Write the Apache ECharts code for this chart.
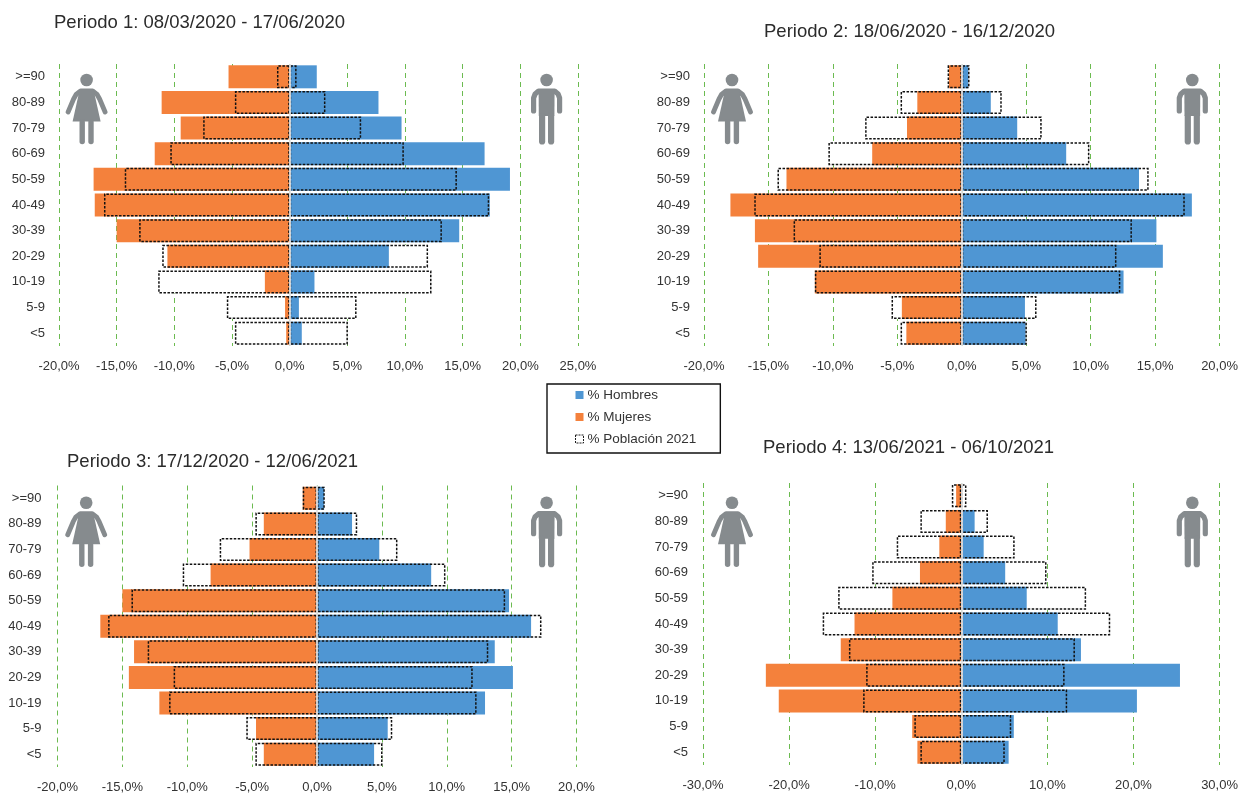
<!DOCTYPE html>
<html><head><meta charset="utf-8">
<style>html,body{margin:0;padding:0;background:#fff}#c{width:1241px;height:794px}</style>
<script src="https://cdn.jsdelivr.net/npm/echarts@6/dist/echarts.min.js"></script>
</head><body><div id="c"></div>
<script>
const categories = ['>=90','80-89','70-79','60-69','50-59','40-49','30-39','20-29','10-19','5-9','<5'];
const popHombres = [0.6,3.1,6.2,9.9,14.5,17.3,13.2,12.0,12.3,5.8,5.05];
const popMujeres = [-1.1,-4.75,-7.5,-10.35,-14.3,-16.1,-13.05,-11.05,-11.4,-5.45,-4.75];
const p1Hombres = [2.35,7.7,9.7,16.9,19.1,17.35,14.7,8.6,2.15,0.8,1.05];
const p1Mujeres = [-5.3,-11.1,-9.45,-11.7,-17.0,-16.9,-15.0,-10.6,-2.15,-0.4,-0.3];
const p2Hombres = [0.5,2.25,4.3,8.1,13.75,17.85,15.1,15.6,12.55,4.9,4.95];
const p2Mujeres = [-1.0,-3.45,-4.25,-6.95,-13.6,-17.95,-16.05,-15.8,-11.4,-4.65,-4.3];
const p3Hombres = [0.55,2.7,4.8,8.8,14.8,16.5,13.7,15.1,12.95,5.45,4.4];
const p3Mujeres = [-1.1,-4.1,-5.2,-8.2,-15.0,-16.7,-14.1,-14.5,-12.15,-4.7,-4.1];
const p4Hombres = [0.05,1.55,2.6,5.1,7.6,11.2,13.9,25.4,20.4,6.1,5.5];
const p4Mujeres = [-0.6,-1.8,-2.55,-4.8,-8.0,-12.4,-14.0,-22.7,-21.2,-5.7,-5.1];
const titles = ['Periodo 1: 08/03/2020 - 17/06/2020','Periodo 2: 18/06/2020 - 16/12/2020','Periodo 3: 17/12/2020 - 12/06/2021','Periodo 4: 13/06/2021 - 06/10/2021'];

const BLUE='#4f96d3', ORANGE='#f4813c', GREEN='#6cbb50', TXT='#333333', GREY='#868b8e', FONT='"Liberation Sans",Arial,sans-serif';
const panels = [
 {h:p1Hombres,m:p1Mujeres,l:59,r:578,t:64,min:-20,max:25,iv:5,tx:54,ty:13,wx:86.6,mx:546.6,iy:80,lab:14},
 {h:p2Hombres,m:p2Mujeres,l:704,r:1222.5,t:64,min:-20,max:20,iv:5,tx:764,ty:22,wx:732,mx:1192.3,iy:80,lab:14},
 {h:p3Hombres,m:p3Mujeres,l:57.5,r:576.5,t:485.5,min:-20,max:20,iv:5,tx:67,ty:452,wx:86.2,mx:546.6,iy:502.7,lab:16},
 {h:p4Hombres,m:p4Mujeres,l:703,r:1221.4,t:483,min:-30,max:30,iv:10,tx:763,ty:438,wx:732,mx:1192.3,iy:502.7,lab:15}
];
const stroke=(w)=>({fill:null,stroke:GREY,lineWidth:w,lineCap:'round',lineJoin:'round'});
function woman(x,y){return {type:'group',x,y,silent:true,children:[
  {type:'circle',shape:{cx:0,cy:0,r:6.3},style:{fill:GREY}},
  {type:'polyline',shape:{points:[[-18.5,32],[-13,19],[-10.5,14.5],[-6,11],[6,11],[10.5,14.5],[13,19],[18.5,32]]},style:stroke(4.8)},
  {type:'polygon',shape:{points:[[-7,10],[7,10],[14,41.5],[-14,41.5]]},style:{fill:GREY}},
  {type:'line',shape:{x1:-4.4,y1:42,x2:-4.4,y2:61.5},style:stroke(5.4)},
  {type:'line',shape:{x1:4.4,y1:42,x2:4.4,y2:61.5},style:stroke(5.4)}]};}
function man(x,y){return {type:'group',x,y,silent:true,children:[
  {type:'circle',shape:{cx:0,cy:0,r:6.3},style:{fill:GREY}},
  {type:'polyline',shape:{points:[[-13,31],[-13,18],[-11.5,14],[-8,11],[8,11],[11.5,14],[13,18],[13,31]]},style:stroke(5.2)},
  {type:'polygon',shape:{points:[[-8,9],[8,9],[7.8,36],[-7.8,36]]},style:{fill:GREY}},
  {type:'line',shape:{x1:-4.5,y1:36,x2:-4.5,y2:61.5},style:stroke(6.2)},
  {type:'line',shape:{x1:4.5,y1:36,x2:4.5,y2:61.5},style:stroke(6.2)}]};}

const grid=[],xAxis=[],yAxis=[],series=[],title=[],graphic=[];
panels.forEach((p,i)=>{
  grid.push({left:p.l,width:p.r-p.l,top:p.t,height:282,containLabel:false});
  xAxis.push({gridIndex:i,type:'value',min:p.min,max:p.max,interval:p.iv,
    axisLine:{show:false},axisTick:{show:false},
    splitLine:{show:true,lineStyle:{color:GREEN,type:[5,4],width:1}},
    axisLabel:{margin:14,fontSize:13,fontFamily:FONT,color:TXT,showMinLabel:true,showMaxLabel:true,hideOverlap:false,
      formatter:v=>v.toFixed(1).replace('.',',')+'%'}});
  yAxis.push({gridIndex:i,type:'category',data:categories,inverse:true,
    axisLine:{show:false,onZero:false},axisTick:{show:false},splitLine:{show:false},
    axisLabel:{margin:p.lab,fontSize:13,fontFamily:FONT,color:TXT,interval:0,padding:[2,0,0,0]}});
  const bar=(name,data,itemStyle,extra)=>Object.assign({name,type:'bar',xAxisIndex:i,yAxisIndex:i,data,barWidth:23,barGap:'-100%',silent:true,animation:false,itemStyle},extra||{});
  const fill={color:'#fff',borderWidth:0};
  const dash={color:'rgba(0,0,0,0)',borderColor:'#111',borderWidth:1.5,borderType:[2.5,1.5]};
  series.push(
    bar('Fondo H',popHombres,fill),
    bar('Fondo M',popMujeres,fill),
    bar('% Hombres',p.h,{color:BLUE}),
    bar('% Mujeres',p.m,{color:ORANGE}),
    bar('% Población 2021',popHombres,dash),
    bar('% Población 2021',popMujeres,dash,{markLine:{silent:true,symbol:'none',animation:false,label:{show:false},
       lineStyle:{color:'#e2e2e2',width:1.8,type:'solid'},data:[{xAxis:0}]}})
  );
  title.push({text:titles[i],left:p.tx,top:p.ty,padding:0,textStyle:{fontFamily:FONT,fontSize:18.5,fontWeight:'normal',color:'#2b2b2b'}});
  graphic.push(woman(p.wx,p.iy),man(p.mx,p.iy));
});

const chart=echarts.init(document.getElementById('c'),null,{renderer:'canvas'});
chart.setOption({
  animation:false,backgroundColor:'#fff',title,grid,xAxis,yAxis,series,graphic,
  legend:{orient:'vertical',left:547,top:384,selectedMode:false,
    padding:[4,24,7,28],itemWidth:8,itemHeight:8,itemGap:8,
    borderColor:'#111',borderWidth:1.4,
    textStyle:{fontFamily:FONT,fontSize:13.5,color:TXT,padding:[0,0,0,-1]},
    data:[{name:'% Hombres',icon:'rect'},{name:'% Mujeres',icon:'rect'},
      {name:'% Población 2021',icon:'rect',itemStyle:{color:'#fff',borderColor:'#1c1c1c',borderWidth:1,borderType:[2,1]}}]}
});
</script></body></html>
